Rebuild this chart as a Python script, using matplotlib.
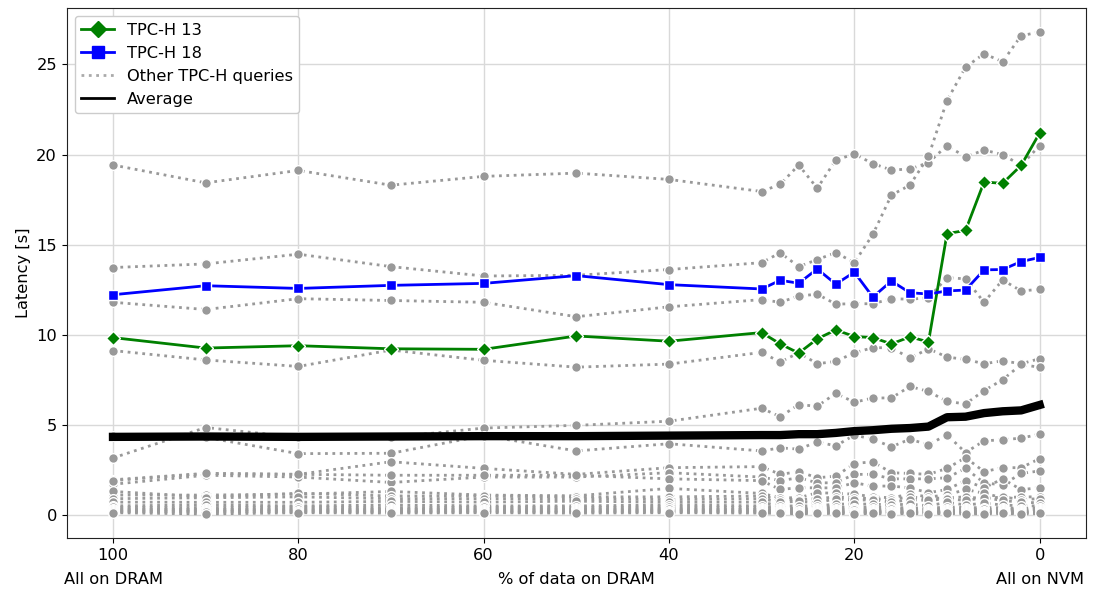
import matplotlib
matplotlib.use("Agg")
import matplotlib.pyplot as plt
from matplotlib.lines import Line2D
import matplotlib.transforms as mtransforms

plt.rcParams['font.family'] = ['DejaVu Sans']
plt.rcParams['font.size'] = 11.7

x = [100, 90, 80, 70, 60, 50, 40, 30, 28, 26, 24, 22, 20, 18, 16, 14, 12, 10, 8, 6, 4, 2, 0]

q13 = [9.84, 9.26, 9.39, 9.22, 9.19, 9.93, 9.64, 10.12, 9.49, 8.98, 9.77, 10.27, 9.9, 9.84, 9.49,
       9.88, 9.6, 15.61, 15.79, 18.48, 18.4, 19.4, 21.2]
q18 = [12.22, 12.72, 12.57, 12.74, 12.85, 13.28, 12.78, 12.54, 13.02, 12.86, 13.65, 12.81, 13.47,
       12.09, 12.98, 12.33, 12.26, 12.43, 12.48, 13.6, 13.62, 14.06, 14.29]
average = [4.33, 4.35, 4.33, 4.35, 4.37, 4.37, 4.4, 4.43, 4.43, 4.48, 4.48, 4.55, 4.65, 4.7, 4.78,
           4.82, 4.9, 5.42, 5.45, 5.65, 5.75, 5.8, 6.1]

others = [
    [19.42, 18.43, 19.12, 18.3, 18.79, 18.97, 18.62, 17.95, 18.35, 19.42, 18.13, 19.7, 20.03, 19.5,
     19.14, 19.2, 19.55, 20.5, 19.87, 20.25, 20.0, 19.4, 20.5],
    [13.73, 13.93, 14.47, 13.78, 13.26, 13.3, 13.62, 14.0, 14.55, 13.78, 14.17, 14.56, 14.0, 15.57,
     17.75, 18.3, 19.9, 23.0, 24.85, 25.6, 25.15, 26.6, 26.8],
    [11.8, 11.4, 12.0, 11.9, 11.8, 11.0, 11.55, 11.95, 11.8, 12.15, 12.25, 11.7, 11.72, 11.72, 12.0,
     11.97, 12.05, 13.17, 13.1, 11.8, 13.04, 12.43, 12.52],
    [9.12, 8.6, 8.24, 9.15, 8.58, 8.2, 8.37, 9.02, 8.48, 9.0, 8.39, 8.52, 9.0, 9.28, 9.28, 8.7, 9.22,
     8.76, 8.63, 8.39, 8.55, 8.39, 8.67],
    [3.16, 4.85, 4.3, 4.3, 4.82, 4.97, 5.2, 5.92, 5.45, 6.12, 6.03, 6.75, 6.25, 6.49, 6.49, 7.13,
     6.85, 6.3, 6.16, 6.9, 7.5, 8.35, 8.19],
    [4.4, 4.3, 3.4, 3.42, 4.4, 3.55, 3.95, 3.55, 3.72, 3.65, 4.05, 3.83, 4.43, 4.2, 3.78, 4.2, 3.89,
     4.45, 3.46, 4.11, 4.17, 4.26, 4.48],
    [1.95, 2.3, 2.25, 2.95, 2.58, 2.25, 2.62, 2.68, 2.25, 2.4, 2.06, 2.15, 2.85, 2.95, 2.34, 2.3,
     2.25, 2.58, 3.18, 2.4, 2.62, 2.62, 3.12],
    [1.7, 2.2, 2.1, 1.8, 2.1, 2.1, 2.34, 2.1, 1.9, 2.06, 1.78, 1.78, 2.25, 2.25, 2.0, 2.0, 2.0, 2.06,
     2.58, 1.78, 1.66, 2.3, 2.44],
    [1.9, 2.3, 2.25, 2.2, 2.2, 2.2, 2.0, 1.9, 1.41, 1.51, 1.5, 1.5, 1.78, 1.6, 1.6, 1.5, 1.23, 1.41,
     1.9, 1.5, 2.0, 1.4, 1.51],
    [1.1, 1.1, 1.15, 1.3, 1.1, 1.06, 1.47, 1.19, 0.95, 0.95, 1.23, 1.2, 1.15, 1.0, 0.95, 1.15, 1.0,
     1.1, 1.41, 1.2, 0.95, 1.0, 1.0],
    [1.3, 1.0, 1.2, 1.05, 1.05, 1.0, 1.0, 1.05, 0.85, 0.85, 0.9, 1.0, 0.95, 0.9, 0.85, 1.0, 0.9, 0.95,
     1.0, 0.9, 1.0, 0.85, 0.9],
    [0.9, 0.95, 1.0, 0.9, 0.9, 0.9, 0.85, 0.9, 0.7, 0.75, 0.67, 0.9, 0.8, 0.85, 0.7, 0.85, 0.8, 0.9,
     0.8, 0.95, 0.8, 0.7, 0.67],
    [0.71, 0.7, 0.7, 0.75, 0.71, 0.76, 0.7, 0.71, 0.49, 0.5, 0.5, 0.6, 0.6, 0.6, 0.55, 0.6, 0.5, 0.7,
     0.55, 0.65, 0.55, 0.5, 0.5],
    [0.5, 0.55, 0.5, 0.55, 0.5, 0.5, 0.55, 0.5, 0.4, 0.35, 0.4, 0.45, 0.4, 0.45, 0.4, 0.4, 0.35, 0.45,
     0.4, 0.4, 0.4, 0.35, 0.4],
    [0.42, 0.4, 0.45, 0.4, 0.42, 0.4, 0.45, 0.4, 0.3, 0.3, 0.32, 0.35, 0.3, 0.33, 0.3, 0.35, 0.28,
     0.35, 0.32, 0.3, 0.33, 0.28, 0.3],
    [0.35, 0.3, 0.35, 0.32, 0.35, 0.33, 0.35, 0.3, 0.25, 0.22, 0.25, 0.28, 0.25, 0.25, 0.22, 0.28,
     0.22, 0.25, 0.25, 0.22, 0.25, 0.22, 0.25],
    [0.28, 0.25, 0.3, 0.25, 0.28, 0.25, 0.3, 0.25, 0.2, 0.18, 0.2, 0.2, 0.18, 0.2, 0.18, 0.2, 0.17,
     0.2, 0.2, 0.18, 0.2, 0.18, 0.2],
    [0.22, 0.2, 0.22, 0.2, 0.22, 0.2, 0.22, 0.2, 0.15, 0.15, 0.15, 0.15, 0.14, 0.15, 0.14, 0.15, 0.13,
     0.15, 0.15, 0.14, 0.15, 0.13, 0.15],
    [0.18, 0.15, 0.18, 0.15, 0.17, 0.15, 0.18, 0.15, 0.12, 0.1, 0.12, 0.12, 0.1, 0.12, 0.1, 0.12, 0.1,
     0.12, 0.1, 0.1, 0.12, 0.1, 0.12],
    [0.12, 0.05, 0.12, 0.1, 0.12, 0.1, 0.12, 0.1, 0.08, 0.06, 0.08, 0.08, 0.06, 0.08, 0.06, 0.08, 0.06,
     0.08, 0.06, 0.06, 0.08, 0.05, 0.08],
]

xticks = [100, 80, 60, 40, 20, 0]
yticks = [0, 5, 10, 15, 20, 25]

fig = plt.figure(figsize=(10.93, 5.90), dpi=100)
ax = fig.add_axes([0.061, 0.088, 0.9326, 0.8985])

gray = '#999999'
for series in others:
    ax.plot(x, series, linestyle=':', color=gray, linewidth=2, marker='o', markersize=7,
            markeredgecolor='white', markeredgewidth=1, zorder=2)

ax.plot(x, q13, color='green', linewidth=2, marker='D', markersize=7,
        markeredgecolor='white', markeredgewidth=1, zorder=3)
ax.plot(x, q18, color='blue', linewidth=2, marker='s', markersize=7,
        markeredgecolor='white', markeredgewidth=1, zorder=3)
ax.plot(x, average, color='black', linewidth=6, zorder=4)

ax.set_xlim(105, -5)
ax.set_xticks(xticks)
ax.set_yticks(yticks)
ax.grid(True, color='#d9d9d9', linewidth=1)
ax.set_axisbelow(True)
for s in ax.spines.values():
    s.set_color('#222222')
ax.set_ylabel('Latency [s]')

trans = mtransforms.blended_transform_factory(ax.transData, fig.transFigure)
ax.text(100, 0.005, 'All on DRAM', transform=trans, ha='center', va='bottom')
ax.text(50, 0.005, '% of data on DRAM', transform=trans, ha='center', va='bottom')
ax.text(0, 0.005, 'All on NVM', transform=trans, ha='center', va='bottom')

handles = [
    Line2D([], [], color='green', linewidth=2, marker='D', markersize=8, markeredgecolor='green'),
    Line2D([], [], color='blue', linewidth=2, marker='s', markersize=8, markeredgecolor='blue'),
    Line2D([], [], color='#aaaaaa', linewidth=2, linestyle=':'),
    Line2D([], [], color='black', linewidth=2),
]
labels = ['TPC-H 13', 'TPC-H 18', 'Other TPC-H queries', 'Average']
ax.legend(handles, labels, loc='upper left', framealpha=1, edgecolor='#cccccc',
          borderaxespad=0.5)

fig.savefig('out.png', dpi=100)
